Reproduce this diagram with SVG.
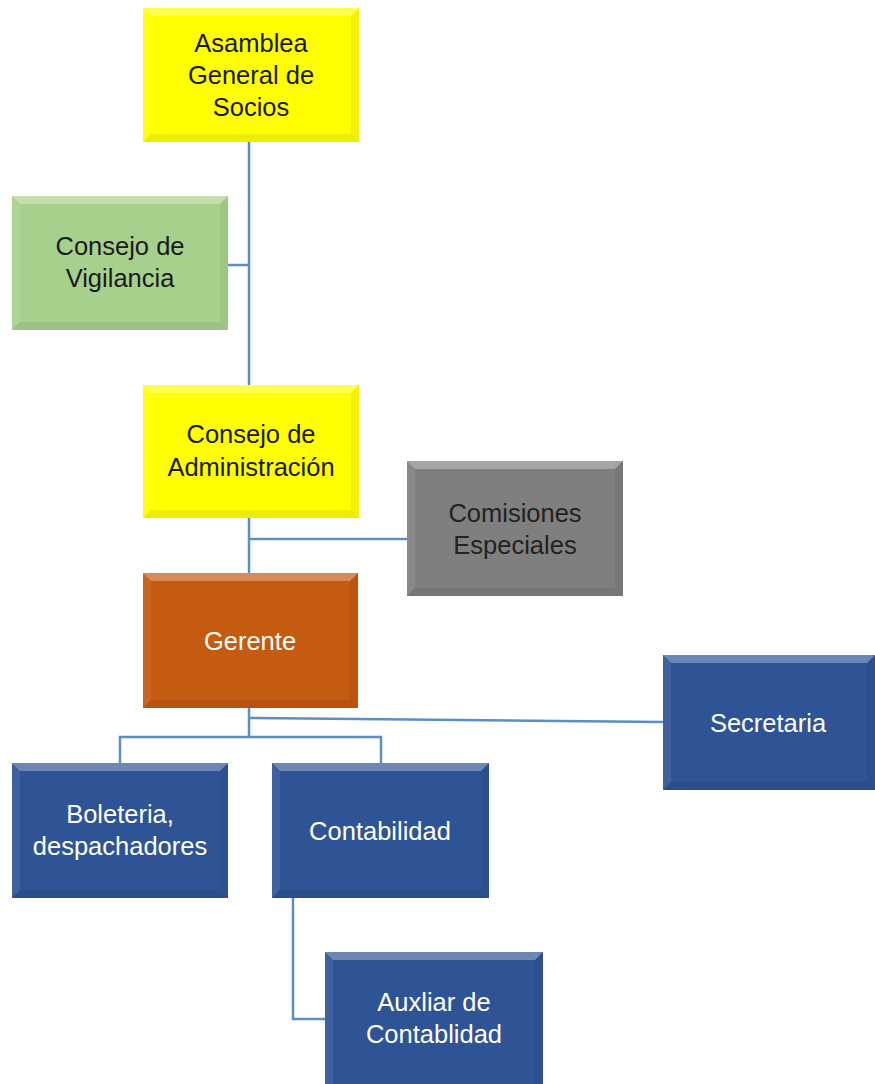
<svg xmlns="http://www.w3.org/2000/svg" width="875" height="1084" viewBox="0 0 875 1084">
<style>
.t{font-family:"Liberation Sans",Arial,sans-serif;font-size:25.5px;text-anchor:middle}
.dk{fill:#1a1a1a}
.lt{fill:#ffffff}
.yel{fill:#ffff00}
.grn{fill:#a8d08d}
.gry{fill:#7f7f7f}
.org{fill:#c55a11}
.blu{fill:#2f5496}
.bt{fill:#ffffff;fill-opacity:0.3}
.bl{fill:#ffffff;fill-opacity:0.08}
.bb{fill:#000000;fill-opacity:0.07}
.br{fill:#000000;fill-opacity:0.05}
.c{fill:none;stroke:#5b8ec6;stroke-width:2.5}
</style>
<g id="connectors">
<path class="c" d="M249,142 V385"/>
<path class="c" d="M228,265 H249"/>
<path class="c" d="M249,518 V573"/>
<path class="c" d="M249,539 H407"/>
<path class="c" d="M249,708 V737"/>
<path class="c" d="M249,718 L663,722"/>
<path class="c" d="M120,763 V737 H381 V763"/>
<path class="c" d="M293,898 V1019 H325"/>
</g>
<g id="asamblea">
<rect class="yel" x="143" y="8" width="216" height="134"/>
<polygon class="bt" points="143,8 359,8 351,16 151,16"/>
<polygon class="bl" points="143,8 151,16 151,134 143,142"/>
<polygon class="bb" points="143,142 151,134 351,134 359,142"/>
<polygon class="br" points="359,8 359,142 351,134 351,16"/>
<text class="t dk" x="251" y="52">Asamblea</text>
<text class="t dk" x="251" y="84">General de</text>
<text class="t dk" x="251" y="116">Socios</text>
</g>
<g id="vigilancia">
<rect class="grn" x="12" y="196" width="216" height="134"/>
<polygon class="bt" points="12,196 228,196 220,204 20,204"/>
<polygon class="bl" points="12,196 20,204 20,322 12,330"/>
<polygon class="bb" points="12,330 20,322 220,322 228,330"/>
<polygon class="br" points="228,196 228,330 220,322 220,204"/>
<text class="t dk" x="120" y="255">Consejo de</text>
<text class="t dk" x="120" y="287">Vigilancia</text>
</g>
<g id="administracion">
<rect class="yel" x="143" y="385" width="216" height="133"/>
<polygon class="bt" points="143,385 359,385 351,393 151,393"/>
<polygon class="bl" points="143,385 151,393 151,510 143,518"/>
<polygon class="bb" points="143,518 151,510 351,510 359,518"/>
<polygon class="br" points="359,385 359,518 351,510 351,393"/>
<text class="t dk" x="251" y="443">Consejo de</text>
<text class="t dk" x="251" y="476">Administración</text>
</g>
<g id="comisiones">
<rect class="gry" x="407" y="461" width="216" height="135"/>
<polygon class="bt" points="407,461 623,461 615,469 415,469"/>
<polygon class="bl" points="407,461 415,469 415,588 407,596"/>
<polygon class="bb" points="407,596 415,588 615,588 623,596"/>
<polygon class="br" points="623,461 623,596 615,588 615,469"/>
<text class="t" fill="#222222" x="515" y="522">Comisiones</text>
<text class="t" fill="#222222" x="515" y="554">Especiales</text>
</g>
<g id="gerente">
<rect class="org" x="143" y="573" width="215" height="135"/>
<polygon class="bt" points="143,573 358,573 350,581 151,581"/>
<polygon class="bl" points="143,573 151,581 151,700 143,708"/>
<polygon class="bb" points="143,708 151,700 350,700 358,708"/>
<polygon class="br" points="358,573 358,708 350,700 350,581"/>
<text class="t lt" x="250" y="650">Gerente</text>
</g>
<g id="secretaria">
<rect class="blu" x="663" y="655" width="212" height="135"/>
<polygon class="bt" points="663,655 875,655 867,663 671,663"/>
<polygon class="bl" points="663,655 671,663 671,782 663,790"/>
<polygon class="bb" points="663,790 671,782 867,782 875,790"/>
<polygon class="br" points="875,655 875,790 867,782 867,663"/>
<text class="t lt" x="768" y="732">Secretaria</text>
</g>
<g id="boleteria">
<rect class="blu" x="12" y="763" width="216" height="135"/>
<polygon class="bt" points="12,763 228,763 220,771 20,771"/>
<polygon class="bl" points="12,763 20,771 20,890 12,898"/>
<polygon class="bb" points="12,898 20,890 220,890 228,898"/>
<polygon class="br" points="228,763 228,898 220,890 220,771"/>
<text class="t lt" x="120" y="823">Boleteria,</text>
<text class="t lt" x="120" y="855">despachadores</text>
</g>
<g id="contabilidad">
<rect class="blu" x="272" y="763" width="217" height="135"/>
<polygon class="bt" points="272,763 489,763 481,771 280,771"/>
<polygon class="bl" points="272,763 280,771 280,890 272,898"/>
<polygon class="bb" points="272,898 280,890 481,890 489,898"/>
<polygon class="br" points="489,763 489,898 481,890 481,771"/>
<text class="t lt" x="380" y="840">Contabilidad</text>
</g>
<g id="auxiliar">
<rect class="blu" x="325" y="952" width="218" height="132"/>
<polygon class="bt" points="325,952 543,952 535,960 333,960"/>
<polygon class="bl" points="325,952 333,960 333,1084 325,1084"/>
<polygon class="br" points="543,952 543,1084 535,1084 535,960"/>
<text class="t lt" x="434" y="1011">Auxliar de</text>
<text class="t lt" x="434" y="1043">Contablidad</text>
</g>
</svg>
